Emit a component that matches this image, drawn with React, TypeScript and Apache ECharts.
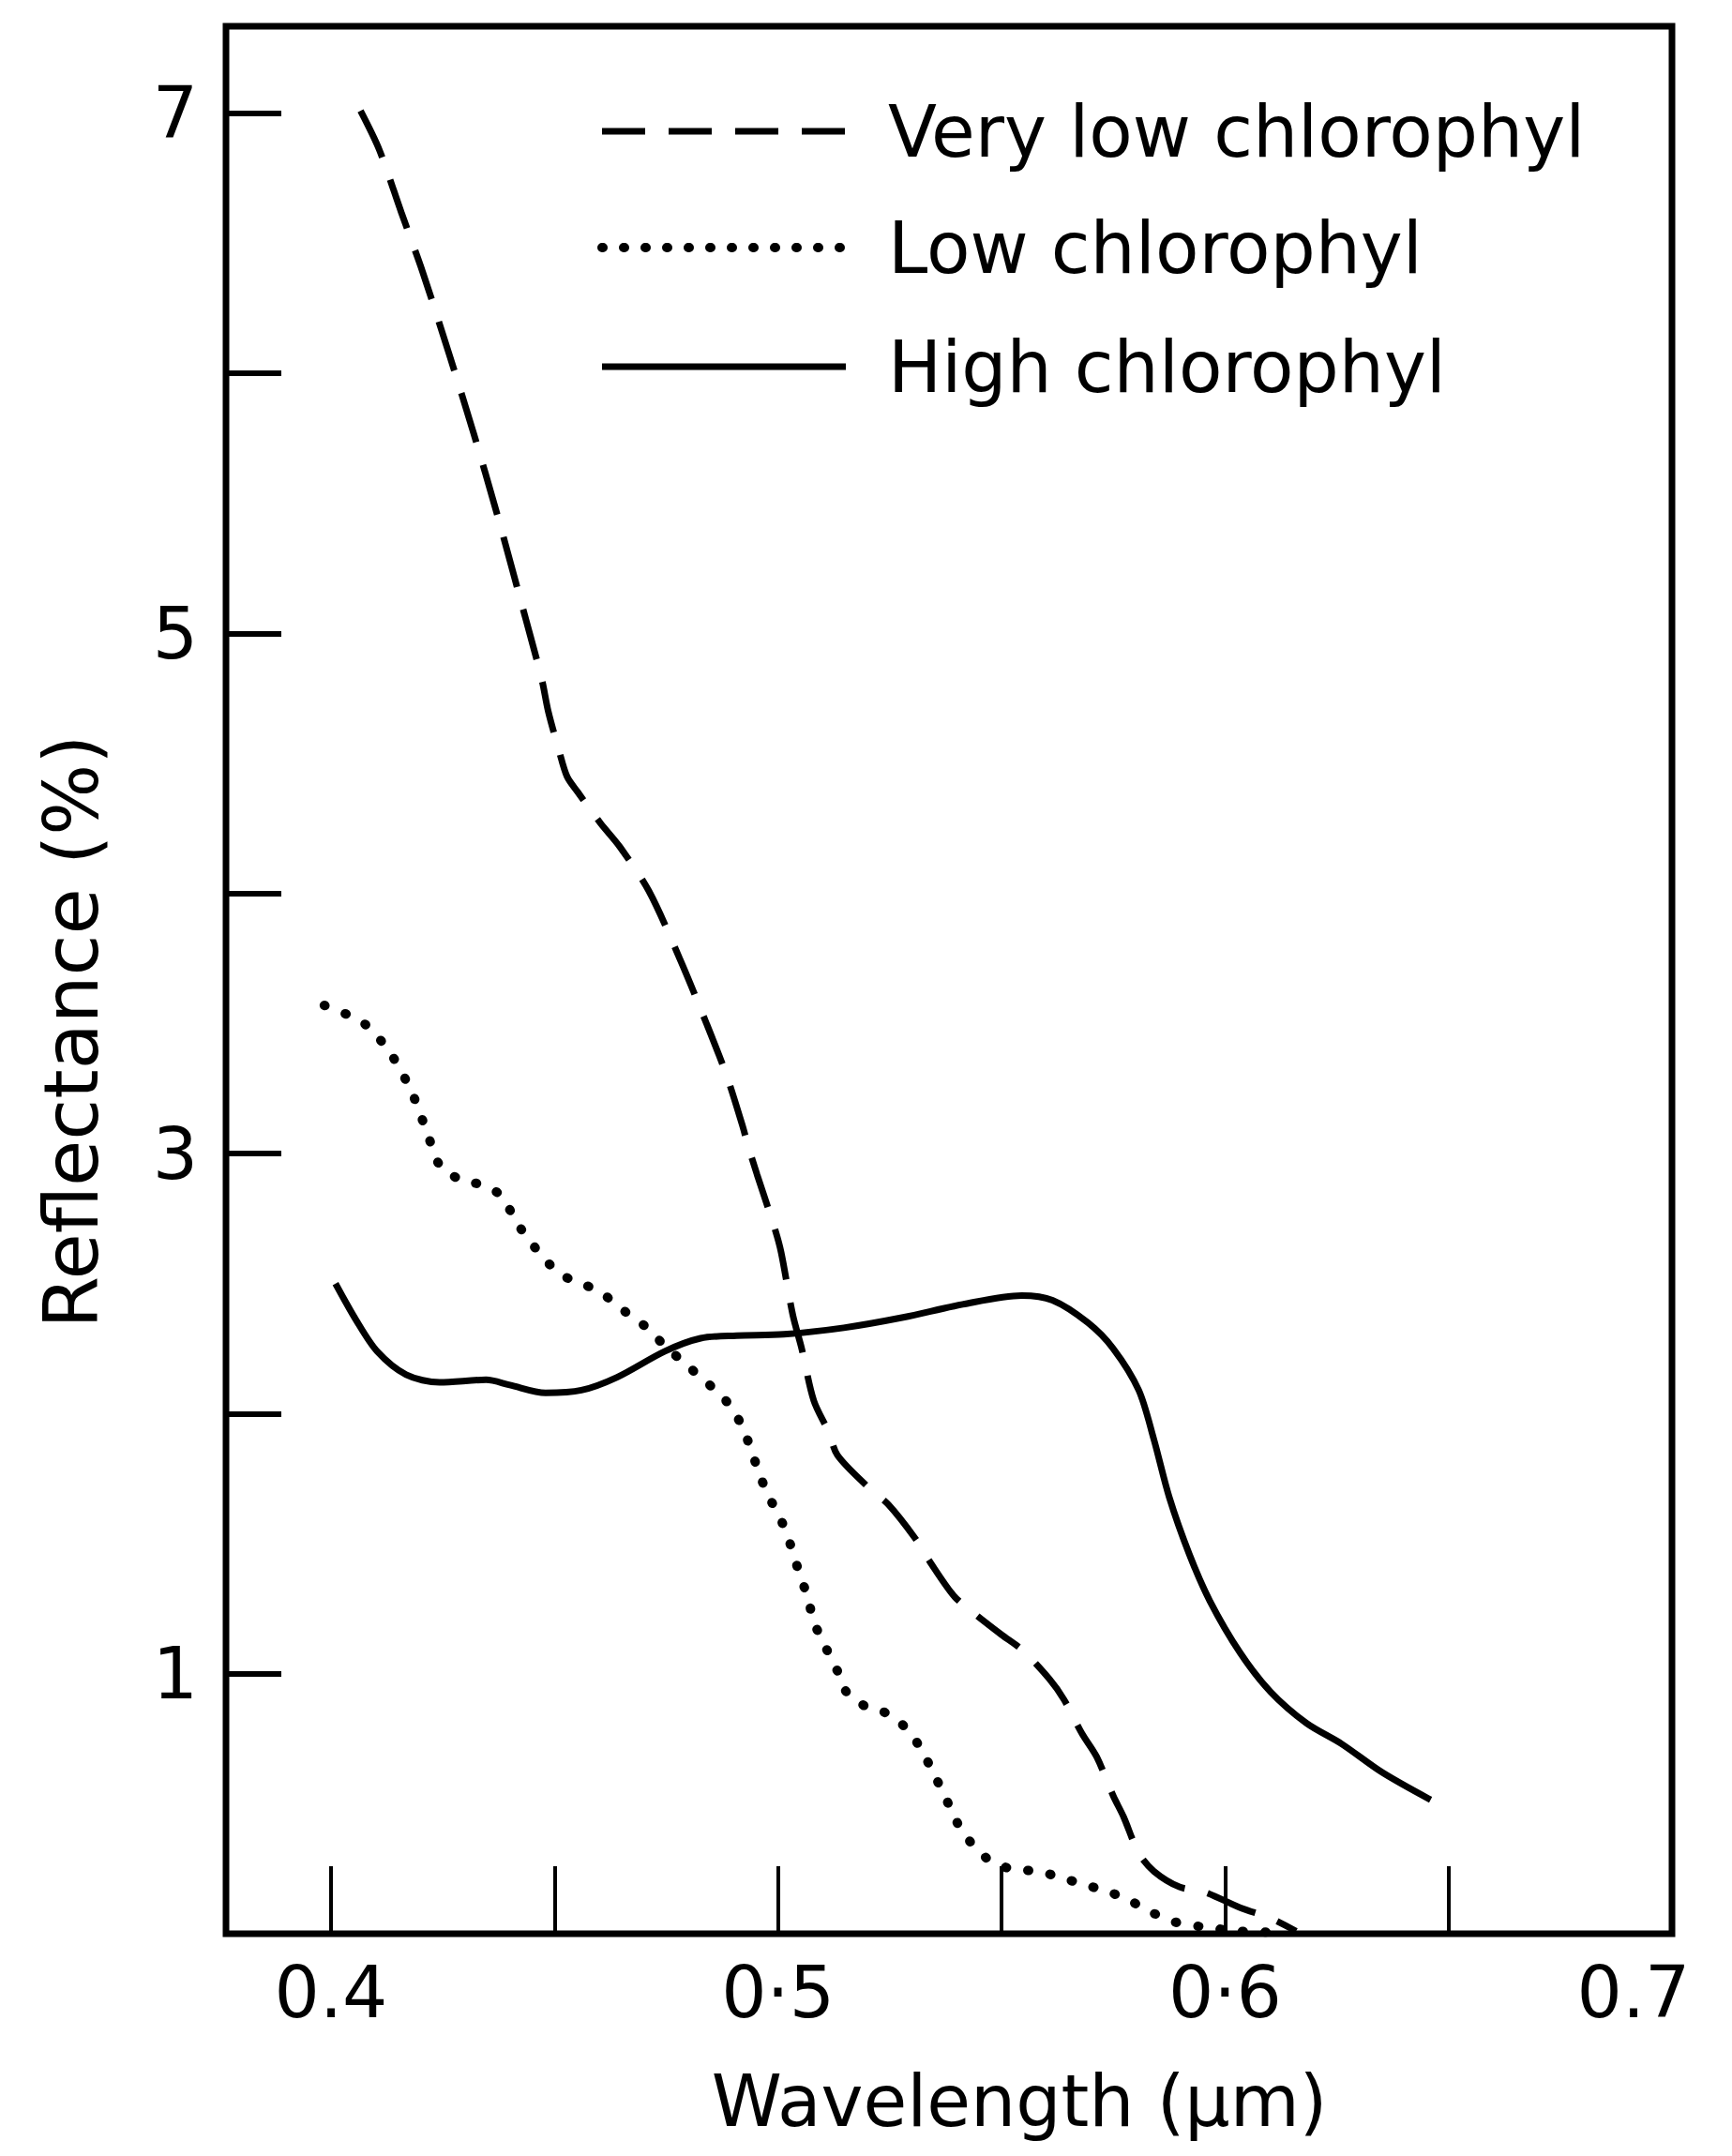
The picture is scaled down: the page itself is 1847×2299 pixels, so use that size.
import React, { useEffect, useRef } from "react";
import * as echarts from "echarts";

const FONT = "DejaVu Sans";

const seriesNames = ["Very low chlorophyl", "Low chlorophyl", "High chlorophyl"];

const veryLowX = [0.4066, 0.4108, 0.4157, 0.4205, 0.4265, 0.4319, 0.4373, 0.4427, 0.4446, 0.4472, 0.4486, 0.451, 0.4528, 0.4552, 0.4603, 0.4646, 0.4711, 0.478, 0.484, 0.4885, 0.492, 0.4933, 0.4953, 0.4993, 0.5007, 0.5033, 0.5053, 0.508, 0.5113, 0.5133, 0.52, 0.5247, 0.5307, 0.534, 0.5393, 0.5433, 0.55, 0.5547, 0.5607, 0.564, 0.568, 0.5713, 0.575, 0.5773, 0.5807, 0.5841, 0.5898, 0.5955, 0.6034, 0.6102, 0.6159];
const veryLowY = [7.01, 6.86, 6.62, 6.39, 6.07, 5.77, 5.45, 5.11, 4.99, 4.82, 4.7, 4.55, 4.45, 4.39, 4.27, 4.18, 4.01, 3.75, 3.5, 3.3, 3.11, 3.03, 2.92, 2.71, 2.62, 2.38, 2.25, 2.05, 1.93, 1.84, 1.72, 1.65, 1.52, 1.43, 1.3, 1.24, 1.15, 1.09, 0.98, 0.9, 0.77, 0.68, 0.53, 0.45, 0.31, 0.24, 0.18, 0.16, 0.1, 0.06, 0.01];

const lowX = [0.3985, 0.4074, 0.4135, 0.4182, 0.4215, 0.4245, 0.429, 0.4336, 0.4379, 0.4421, 0.448, 0.452, 0.456, 0.46, 0.4667, 0.4707, 0.4747, 0.4787, 0.4827, 0.486, 0.4893, 0.492, 0.494, 0.496, 0.498, 0.5007, 0.5027, 0.5047, 0.5067, 0.508, 0.5107, 0.5133, 0.5153, 0.52, 0.524, 0.5287, 0.532, 0.5347, 0.5373, 0.54, 0.5427, 0.5467, 0.552, 0.558, 0.5636, 0.5682, 0.5733, 0.5784, 0.5835, 0.5886, 0.5943, 0.6034, 0.612];
const lowY = [3.57, 3.5, 3.38, 3.23, 3.08, 2.95, 2.9, 2.88, 2.84, 2.72, 2.59, 2.53, 2.5, 2.47, 2.38, 2.33, 2.26, 2.2, 2.14, 2.09, 2.03, 1.95, 1.86, 1.76, 1.68, 1.59, 1.5, 1.39, 1.29, 1.2, 1.1, 1.01, 0.93, 0.87, 0.85, 0.79, 0.71, 0.62, 0.53, 0.43, 0.36, 0.29, 0.25, 0.24, 0.215, 0.19, 0.165, 0.13, 0.083, 0.046, 0.028, 0.01, 0.005];

const highX = [0.401, 0.4056, 0.4103, 0.4168, 0.4243, 0.4347, 0.44, 0.448, 0.456, 0.464, 0.4747, 0.4827, 0.4907, 0.5013, 0.5147, 0.528, 0.5413, 0.5545, 0.5614, 0.5693, 0.575, 0.5807, 0.5841, 0.5875, 0.592, 0.5966, 0.6034, 0.6102, 0.6182, 0.6261, 0.6352, 0.646];
const highY = [2.5, 2.36, 2.24, 2.15, 2.12, 2.13, 2.11, 2.08, 2.09, 2.14, 2.24, 2.29, 2.3, 2.305, 2.33, 2.37, 2.42, 2.454, 2.436, 2.35, 2.25, 2.09, 1.9, 1.68, 1.46, 1.28, 1.08, 0.93, 0.81, 0.73, 0.62, 0.515];

const xTickValues = [0.4, 0.45, 0.5, 0.55, 0.6, 0.65];
const xLabelValues = [0.4, 0.5, 0.6, 0.7];
const xLabelTexts = ["0.4", "0·5", "0·6", "0.7"];
const yTickValues = [1, 2, 3, 4, 5, 6, 7];
const yLabelValues = [1, 3, 5, 7];

const zip = (xs: number[], ys: number[]) => xs.map((x, i) => [x, ys[i]]);

const DASHED = [55, 25];
const DOTTED = [1, 23];

export default function App() {
  const ref = useRef<HTMLDivElement>(null);
  useEffect(() => {
    if (!ref.current) return;
    const chart = echarts.init(ref.current, undefined, { renderer: "svg" });
    const lineBase = { type: "line", showSymbol: false, symbol: "none", smooth: 0.3, silent: true };

    const legendStyles = [
      { lineWidth: 7, lineDash: [46, 25], lineCap: "butt" },
      { lineWidth: 10, lineDash: [1, 22], lineCap: "round" },
      { lineWidth: 7, lineDash: null, lineCap: "butt" },
    ];
    const legendRowsY = [140, 264, 391];
    const legendGraphics: any[] = [];
    seriesNames.forEach((name, i) => {
      legendGraphics.push({
        type: "line",
        silent: true,
        shape: { x1: 642, y1: legendRowsY[i], x2: 902, y2: legendRowsY[i] },
        style: { stroke: "#000", ...legendStyles[i] },
      });
      legendGraphics.push({
        type: "text",
        silent: true,
        x: 947,
        y: legendRowsY[i],
        style: {
          text: name,
          fill: "#000",
          fontSize: 76,
          fontFamily: FONT,
          align: "left",
          verticalAlign: "middle",
        },
      });
    });

    chart.setOption({
      animation: false,
      backgroundColor: "#fff",
      textStyle: { fontFamily: FONT, color: "#000" },
      grid: {
        left: 241,
        top: 28,
        right: 64,
        bottom: 237,
        show: true,
        borderColor: "#000",
        borderWidth: 7,
        backgroundColor: "transparent",
      },
      graphic: legendGraphics,
      xAxis: {
        type: "value",
        min: 0.3765,
        max: 0.7,
        name: "Wavelength (μm)",
        nameLocation: "middle",
        nameGap: 140,
        nameTextStyle: { fontSize: 76, fontFamily: FONT, color: "#000", padding: [0, 0, 0, 150] },
        axisLine: { show: false },
        splitLine: { show: false },
        axisTick: {
          show: true,
          inside: true,
          length: 72,
          customValues: xTickValues,
          lineStyle: { color: "#000", width: 4 },
        },
        axisLabel: {
          show: true,
          margin: 24,
          fontSize: 76,
          fontFamily: FONT,
          color: "#000",
          customValues: xLabelValues,
          formatter: (v: number) => {
            const i = xLabelValues.findIndex((t) => Math.abs(t - v) < 1e-6);
            const txt = i >= 0 ? xLabelTexts[i] : String(v);
            return Math.abs(v - 0.7) < 1e-6 ? "{s|" + txt + "}" : txt;
          },
          rich: { s: { fontSize: 76, fontFamily: FONT, color: "#000", padding: [0, 82, 0, 0] } },
        },
      },
      yAxis: {
        type: "value",
        min: 0,
        max: 7.335,
        name: "Reflectance (%)",
        nameLocation: "middle",
        nameGap: 125,
        nameTextStyle: { fontSize: 80, fontFamily: FONT, color: "#000", padding: [0, 110, 0, 0] },
        axisLine: { show: false },
        splitLine: { show: false },
        axisTick: {
          show: true,
          inside: true,
          length: 59,
          customValues: yTickValues,
          lineStyle: { color: "#000", width: 6 },
        },
        axisLabel: {
          show: true,
          margin: 30,
          fontSize: 76,
          fontFamily: FONT,
          color: "#000",
          customValues: yLabelValues,
        },
      },
      series: [
        {
          ...lineBase,
          name: seriesNames[0],
          data: zip(veryLowX, veryLowY),
          lineStyle: { color: "#000", width: 7, type: DASHED },
        },
        {
          ...lineBase,
          name: seriesNames[1],
          data: zip(lowX, lowY),
          lineStyle: { color: "#000", width: 10, type: DOTTED, cap: "round" },
        },
        {
          ...lineBase,
          name: seriesNames[2],
          data: zip(highX, highY),
          lineStyle: { color: "#000", width: 7, type: "solid" },
        },
      ],
    });
    return () => chart.dispose();
  }, []);
  return (
    <div
      ref={ref}
      style={{ position: "absolute", left: 0, top: 0, width: 1847, height: 2299, background: "#fff" }}
    />
  );
}
